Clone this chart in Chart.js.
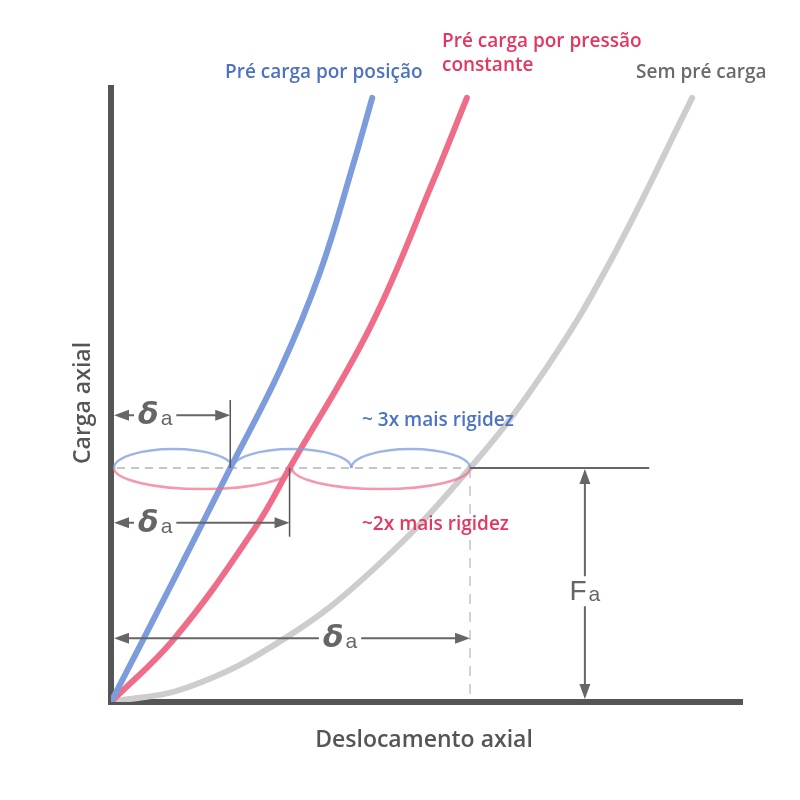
<!DOCTYPE html>
<html>
<head>
<meta charset="utf-8">
<script src="https://cdn.jsdelivr.net/npm/chart.js@4.4.0/dist/chart.umd.min.js"></script>
<style>
  html, body { margin: 0; padding: 0; background: #fff; }
  #wrap { width: 800px; height: 800px; }
</style>
</head>
<body>
<div id="wrap"><canvas id="graphicRigidez" width="800" height="800"></canvas></div>
<script>
// Deslocamento axial (x) e carga axial (y), unidades arbitrárias 0-10
const blueX = [0, 1.01, 1.89, 2.68, 3.31, 3.84, 4.14];
const blueY = [0, 2.02, 3.81, 5.41, 6.99, 8.76, 9.84];
const redX = [0, 1.01, 2.28, 2.83, 4.11, 5.10, 5.64];
const redY = [0, 1.04, 2.83, 3.81, 6.11, 8.47, 9.84];
const grayX = [0, 1.22, 2.76, 4.18, 5.69, 6.88, 7.91, 9.21];
const grayY = [0, 0.24, 1.04, 2.18, 3.81, 5.41, 7.17, 9.84];
const seriesNames = ["Pré carga por posição", "Pré carga por pressão constante", "Sem pré carga"];
const seriesColors = ["#7d9cdb", "#ef6d88", "#cdcdcd"];
const textColors = ["#4d72c2", "#e3375f", "#6a6a6a"];

// carga Fa e deslocamentos δa de cada curva
const loadFa = 3.81;
const deltaA = [1.89, 2.83, 5.69];
const faArrowX = 7.51;
const lineEndX = 8.53;

function toPoints(xs, ys) {
  return xs.map((v, i) => ({ x: v, y: ys[i] }));
}

function arrowHead(ctx, tx, ty, dx, dy, len = 15, half = 5.5) {
  const bx = tx - dx * len, by = ty - dy * len;
  ctx.beginPath();
  ctx.moveTo(tx, ty);
  ctx.lineTo(bx - dy * half, by + dx * half);
  ctx.lineTo(bx + dy * half, by - dx * half);
  ctx.closePath();
  ctx.fill();
}

// texto tipo "δa" ou "Fa" com fundo branco
function symbolLabel(ctx, main, sub, cx, baseline, mainFont) {
  ctx.font = mainFont;
  const w1 = ctx.measureText(main).width;
  ctx.font = "21px 'Liberation Sans'";
  const w2 = ctx.measureText(sub).width;
  const w = w1 + w2 + 2;
  const x0 = cx - w / 2;
  ctx.fillStyle = "#fff";
  ctx.fillRect(x0 - 4, baseline - 24, w + 8, 30);
  ctx.fillStyle = "#666";
  ctx.textAlign = "left";
  ctx.textBaseline = "alphabetic";
  ctx.font = mainFont;
  ctx.fillText(main, x0, baseline);
  ctx.font = "21px 'Liberation Sans'";
  ctx.fillText(sub, x0 + w1 + 2, baseline + 1);
}

const guidesPlugin = {
  id: "guias",
  beforeDatasetsDraw(chart) {
    const { ctx, scales: { x, y } } = chart;
    const yF = y.getPixelForValue(loadFa);
    const y0 = y.getPixelForValue(0);
    const xG = x.getPixelForValue(deltaA[2]);
    ctx.save();
    // linha tracejada horizontal até a curva sem pré carga
    ctx.strokeStyle = "#b3b3b3";
    ctx.lineWidth = 1.5;
    ctx.setLineDash([8, 6]);
    ctx.beginPath();
    ctx.moveTo(x.getPixelForValue(0) + 6, yF);
    ctx.lineTo(xG, yF);
    ctx.stroke();
    // vertical tracejada
    ctx.setLineDash([10, 8]);
    ctx.strokeStyle = "#c4c4c4";
    ctx.beginPath();
    ctx.moveTo(xG, yF);
    ctx.lineTo(xG, y0 - 3);
    ctx.stroke();
    ctx.restore();
  },
  afterDatasetsDraw(chart) {
    const { ctx, chartArea, scales: { x, y } } = chart;
    const px = (v) => x.getPixelForValue(v);
    const py = (v) => y.getPixelForValue(v);
    const yF = py(loadFa);
    const left = chartArea.left + 3;
    const bottom = chartArea.bottom - 3;
    ctx.save();

    // arcos: 3 em azul acima, 2 em vermelho abaixo
    ctx.lineWidth = 2.5;
    ctx.strokeStyle = "rgba(125,156,219,0.75)";
    const spanB = (px(deltaA[2]) - left) / 3;
    for (let i = 0; i < 3; i++) {
      ctx.beginPath();
      ctx.ellipse(left + spanB * (i + 0.5), yF, spanB / 2, 19, 0, Math.PI, 2 * Math.PI);
      ctx.stroke();
    }
    ctx.strokeStyle = "rgba(239,109,136,0.7)";
    const spanR = (px(deltaA[2]) - left) / 2;
    for (let i = 0; i < 2; i++) {
      ctx.beginPath();
      ctx.ellipse(left + spanR * (i + 0.5), yF, spanR / 2, 21, 0, 0, Math.PI);
      ctx.stroke();
    }

    ctx.strokeStyle = "#666";
    ctx.fillStyle = "#666";
    ctx.lineWidth = 2;
    // linha horizontal sólida de Fa
    ctx.beginPath();
    ctx.moveTo(px(deltaA[2]), yF);
    ctx.lineTo(px(lineEndX), yF);
    ctx.stroke();

    // seta Fa
    const xFa = px(faArrowX);
    ctx.beginPath();
    ctx.moveTo(xFa, yF + 10);
    ctx.lineTo(xFa, bottom - 10);
    ctx.stroke();
    arrowHead(ctx, xFa, yF + 1, 0, -1);
    arrowHead(ctx, xFa, bottom, 0, 1);
    symbolLabel(ctx, "F", "a", xFa, py(1.82) + 10, "28px 'Liberation Sans'");

    // marcas verticais dos δa
    ctx.strokeStyle = "#555";
    ctx.lineWidth = 1.5;
    ctx.beginPath();
    ctx.moveTo(px(deltaA[0]), py(4.92));
    ctx.lineTo(px(deltaA[0]), yF);
    ctx.moveTo(px(deltaA[1]), yF);
    ctx.lineTo(px(deltaA[1]), py(2.69));
    ctx.stroke();

    // setas δa
    const arrowsY = [4.67, 2.92, 1.04];
    const labelsX = [0.70, 0.70, 3.63];
    ctx.strokeStyle = "#666";
    ctx.lineWidth = 2;
    arrowsY.forEach((v, i) => {
      const ya = py(v);
      const xe = px(deltaA[i]);
      ctx.fillStyle = "#666";
      ctx.beginPath();
      ctx.moveTo(left + 10, ya);
      ctx.lineTo(xe - 10, ya);
      ctx.stroke();
      arrowHead(ctx, left, ya, -1, 0);
      arrowHead(ctx, xe, ya, 1, 0);
      symbolLabel(ctx, "δ", "a", px(labelsX[i]), ya + 9, "italic bold 30px 'DejaVu Sans'");
    });

    // textos
    ctx.textAlign = "left";
    ctx.textBaseline = "alphabetic";
    ctx.font = "600 19px 'Open Sans'";
    ctx.fillStyle = textColors[0];
    ctx.fillText("Pré carga por posição", 225, 78);
    ctx.fillStyle = textColors[1];
    ctx.fillText("Pré carga por pressão", 442, 47);
    ctx.fillText("constante", 442, 71);
    ctx.fillStyle = textColors[2];
    ctx.fillText("Sem pré carga", 636, 78);

    ctx.font = "600 19px 'Open Sans'";
    ctx.fillStyle = textColors[0];
    ctx.fillText("~ 3x mais rigidez", 362, 426);
    ctx.fillStyle = textColors[1];
    ctx.fillText("~2x mais rigidez", 362, 530);

    ctx.fillStyle = "#555";
    ctx.font = "600 23px 'Open Sans'";
    ctx.textAlign = "center";
    ctx.fillText("Deslocamento axial", 424, 747);
    ctx.translate(90, 403);
    ctx.rotate(-Math.PI / 2);
    ctx.fillText("Carga axial", 0, 0);
    ctx.restore();
  }
};

const chrt = document.getElementById("graphicRigidez").getContext("2d");
new Chart(chrt, {
  type: "line",
  data: {
    datasets: [
      {
        label: seriesNames[0],
        data: toPoints(blueX, blueY),
        borderColor: seriesColors[0],
        borderWidth: 6,
      },
      {
        label: seriesNames[1],
        data: toPoints(redX, redY),
        borderColor: seriesColors[1],
        borderWidth: 6,
      },
      {
        label: seriesNames[2],
        data: toPoints(grayX, grayY),
        borderColor: seriesColors[2],
        borderWidth: 6,
      },
    ],
  },
  options: {
    responsive: false,
    animation: false,
    devicePixelRatio: 1,
    layout: {
      padding: { left: 105, right: 58, top: 88, bottom: 92 },
    },
    elements: {
      point: { radius: 0 },
      line: { tension: 0.4, borderCapStyle: "round" },
    },
    scales: {
      x: {
        type: "linear",
        min: 0,
        max: 10,
        grid: { display: false },
        ticks: { display: false },
        border: { display: true, color: "#555", width: 6 },
        afterFit(s) { s.height = 6; },
      },
      y: {
        type: "linear",
        min: 0,
        max: 10,
        grid: { display: false },
        ticks: { display: false },
        border: { display: true, color: "#555", width: 6 },
        afterFit(s) { s.width = 6; },
      },
    },
    plugins: {
      legend: { display: false },
      tooltip: { enabled: false },
    },
  },
  plugins: [guidesPlugin],
});
</script>
</body>
</html>
